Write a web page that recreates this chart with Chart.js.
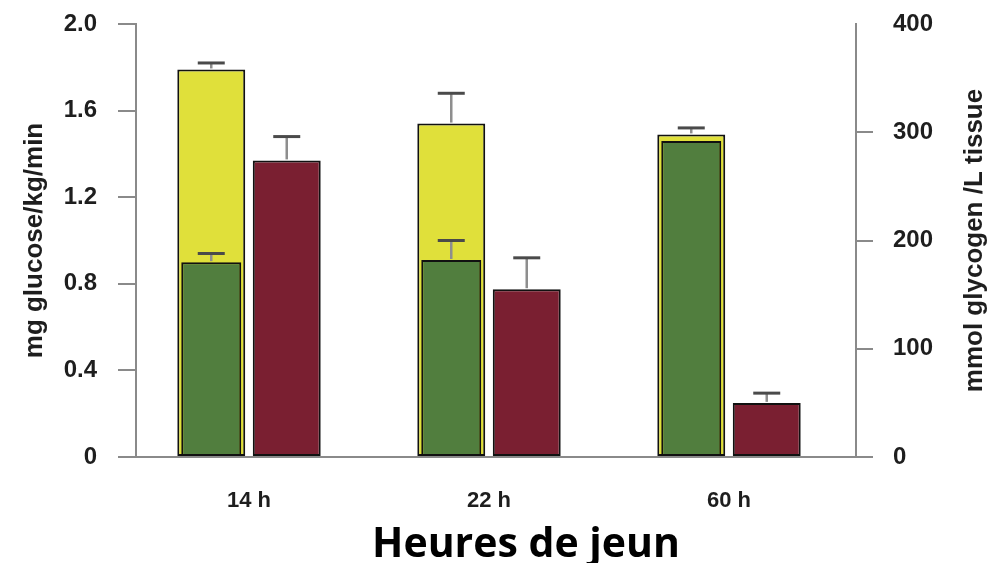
<!DOCTYPE html>
<html>
<head>
<meta charset="utf-8">
<script src="https://cdn.jsdelivr.net/npm/chart.js@4.4.1/dist/chart.umd.min.js"></script>
<style>
  html, body { margin: 0; padding: 0; background: #ffffff; }
  #wrap { width: 992px; height: 563px; }
</style>
</head>
<body>
<div id="wrap"><canvas id="c" width="992" height="563"></canvas></div>
<script>
// Fasting duration groups
const fastingHours = ['14 h', '22 h', '60 h'];

// Glucose production (mg glucose/kg/min), left axis
const totalGlucose = [1.79, 1.54, 1.49];
const totalGlucoseSem = [0.03, 0.14, 0.03];
const gluconeogenesis = [0.90, 0.91, 1.46];
const gluconeogenesisSem = [0.04, 0.09, 0];

// Liver glycogen (mmol glycogen / L tissue), right axis
const hepaticGlycogen = [274, 155, 50];
const hepaticGlycogenSem = [22, 29, 9];

// Tick labels
const glucoseTicks = ['0', '0.4', '0.8', '1.2', '1.6', '2.0'];
const glycogenTicks = ['0', '100', '200', '300', '400'];

const AXIS_GREY = '#8a8a8a';
const TEXT = '#1e1e1e';
const SANS = '"Liberation Sans", Arial, sans-serif';
const Y_TICK_FONT = { family: SANS, size: 24, weight: 'bold' };
const X_TICK_FONT = { family: SANS, size: 22, weight: 'bold' };

// Error bars (upper half only) drawn on top of the bars
const errorBarPlugin = {
  id: 'errorBars',
  afterDatasetsDraw(chart) {
    const ctx = chart.ctx;
    chart.data.datasets.forEach((ds, di) => {
      if (!ds.sem) return;
      const meta = chart.getDatasetMeta(di);
      const scale = chart.scales[ds.yAxisID];
      meta.data.forEach((bar, i) => {
        const err = ds.sem[i];
        if (!err) return;
        const top = scale.getPixelForValue(ds.data[i] + err);
        const half = 13.5;
        ctx.save();
        ctx.strokeStyle = '#8e8e8e';
        ctx.lineWidth = 2.5;
        ctx.beginPath();
        ctx.moveTo(bar.x, bar.y - 1);
        ctx.lineTo(bar.x, top);
        ctx.stroke();
        ctx.strokeStyle = '#4a4a4a';
        ctx.lineWidth = 3;
        ctx.beginPath();
        ctx.moveTo(bar.x - half, top);
        ctx.lineTo(bar.x + half, top);
        ctx.stroke();
        ctx.restore();
      });
    });
  }
};

// Bar pairs sit a little left of the category centres
const groupShiftPlugin = {
  id: 'groupShift',
  afterLayout(chart) {
    const xs = chart.scales.x;
    xs.left -= 7;
    xs.right -= 7;
    xs.configure();
  }
};

// Right axis title (reads upward) and the overall x title
const titlesPlugin = {
  id: 'titles',
  afterDraw(chart) {
    const { ctx, chartArea, scales } = chart;
    ctx.save();
    ctx.font = 'bold 26px ' + SANS;
    ctx.fillStyle = TEXT;
    ctx.textAlign = 'center';
    ctx.textBaseline = 'middle';
    ctx.translate(scales.y2.right - 17, (chartArea.top + chartArea.bottom) / 2);
    ctx.rotate(-Math.PI / 2);
    ctx.fillText('mmol glycogen /L tissue', 0, 0);
    ctx.restore();

    ctx.save();
    ctx.font = 'bold 41px "Open Sans", sans-serif';
    ctx.fillStyle = '#000000';
    ctx.textAlign = 'center';
    ctx.textBaseline = 'alphabetic';
    ctx.fillText('Heures de jeun', (chartArea.left + chartArea.right) / 2 + 30, chart.height - 6);
    ctx.restore();
  }
};

// Fixed axis widths; tick-label overhang is left to the page padding
function fixVerticalAxis(scale) {
  scale.width = 136;
  scale.paddingTop = 0;
  scale.paddingBottom = 0;
}

new Chart(document.getElementById('c'), {
  type: 'bar',
  data: {
    labels: fastingHours,
    datasets: [
      {
        label: 'Gluconéogenèse',
        data: gluconeogenesis,
        sem: gluconeogenesisSem,
        yAxisID: 'y',
        stack: 'glucose',
        backgroundColor: '#517e3e',
        borderColor: '#111111',
        borderWidth: 2,
        borderSkipped: false,
        barPercentage: 0.795,
        categoryPercentage: 0.629
      },
      {
        label: 'Production totale de glucose',
        data: totalGlucose,
        sem: totalGlucoseSem,
        yAxisID: 'y',
        stack: 'glucose',
        backgroundColor: '#e0e03a',
        borderColor: '#111111',
        borderWidth: 2,
        borderSkipped: false,
        barPercentage: 0.9,
        categoryPercentage: 0.629
      },
      {
        label: 'Glycogène hépatique',
        data: hepaticGlycogen,
        sem: hepaticGlycogenSem,
        yAxisID: 'y2',
        stack: 'glycogen',
        backgroundColor: '#7a1f31',
        borderColor: '#111111',
        borderWidth: 2,
        borderSkipped: false,
        barPercentage: 0.9,
        categoryPercentage: 0.629
      }
    ]
  },
  options: {
    responsive: false,
    animation: false,
    layout: { padding: { top: 24, left: 0, right: 0, bottom: 0 } },
    plugins: {
      legend: { display: false },
      tooltip: { enabled: false }
    },
    scales: {
      x: {
        grid: { display: false, drawTicks: false },
        border: { display: false },
        ticks: { font: X_TICK_FONT, color: TEXT, padding: 31 },
        afterFit(scale) {
          scale.height = 106;
          scale.paddingLeft = 0;
          scale.paddingRight = 0;
        }
      },
      y: {
        position: 'left',
        stacked: false,
        min: 0,
        max: 2,
        ticks: {
          stepSize: 0.4,
          font: Y_TICK_FONT,
          color: TEXT,
          padding: 21,
          callback: (v, i) => glucoseTicks[i]
        },
        grid: {
          color: ctx => (ctx.tick && ctx.tick.value === 0 ? AXIS_GREY : 'rgba(0,0,0,0)'),
          tickColor: AXIS_GREY,
          lineWidth: 2,
          tickLength: 18
        },
        border: { display: true, color: AXIS_GREY, width: 2 },
        title: {
          display: true,
          text: 'mg glucose/kg/min',
          font: { family: SANS, size: 26, weight: 'bold' },
          color: TEXT,
          padding: { top: 19, bottom: 0 }
        },
        afterFit: fixVerticalAxis
      },
      y2: {
        position: 'right',
        stacked: false,
        min: 0,
        max: 400,
        ticks: {
          stepSize: 100,
          font: Y_TICK_FONT,
          color: TEXT,
          padding: 20,
          callback: (v, i) => glycogenTicks[i]
        },
        grid: {
          drawOnChartArea: false,
          tickColor: ctx => (ctx.tick && ctx.tick.value === 400 ? 'rgba(0,0,0,0)' : AXIS_GREY),
          lineWidth: 2,
          tickLength: 17
        },
        border: { display: true, color: AXIS_GREY, width: 2 },
        afterFit: fixVerticalAxis
      }
    }
  },
  plugins: [groupShiftPlugin, errorBarPlugin, titlesPlugin]
});
</script>
</body>
</html>
